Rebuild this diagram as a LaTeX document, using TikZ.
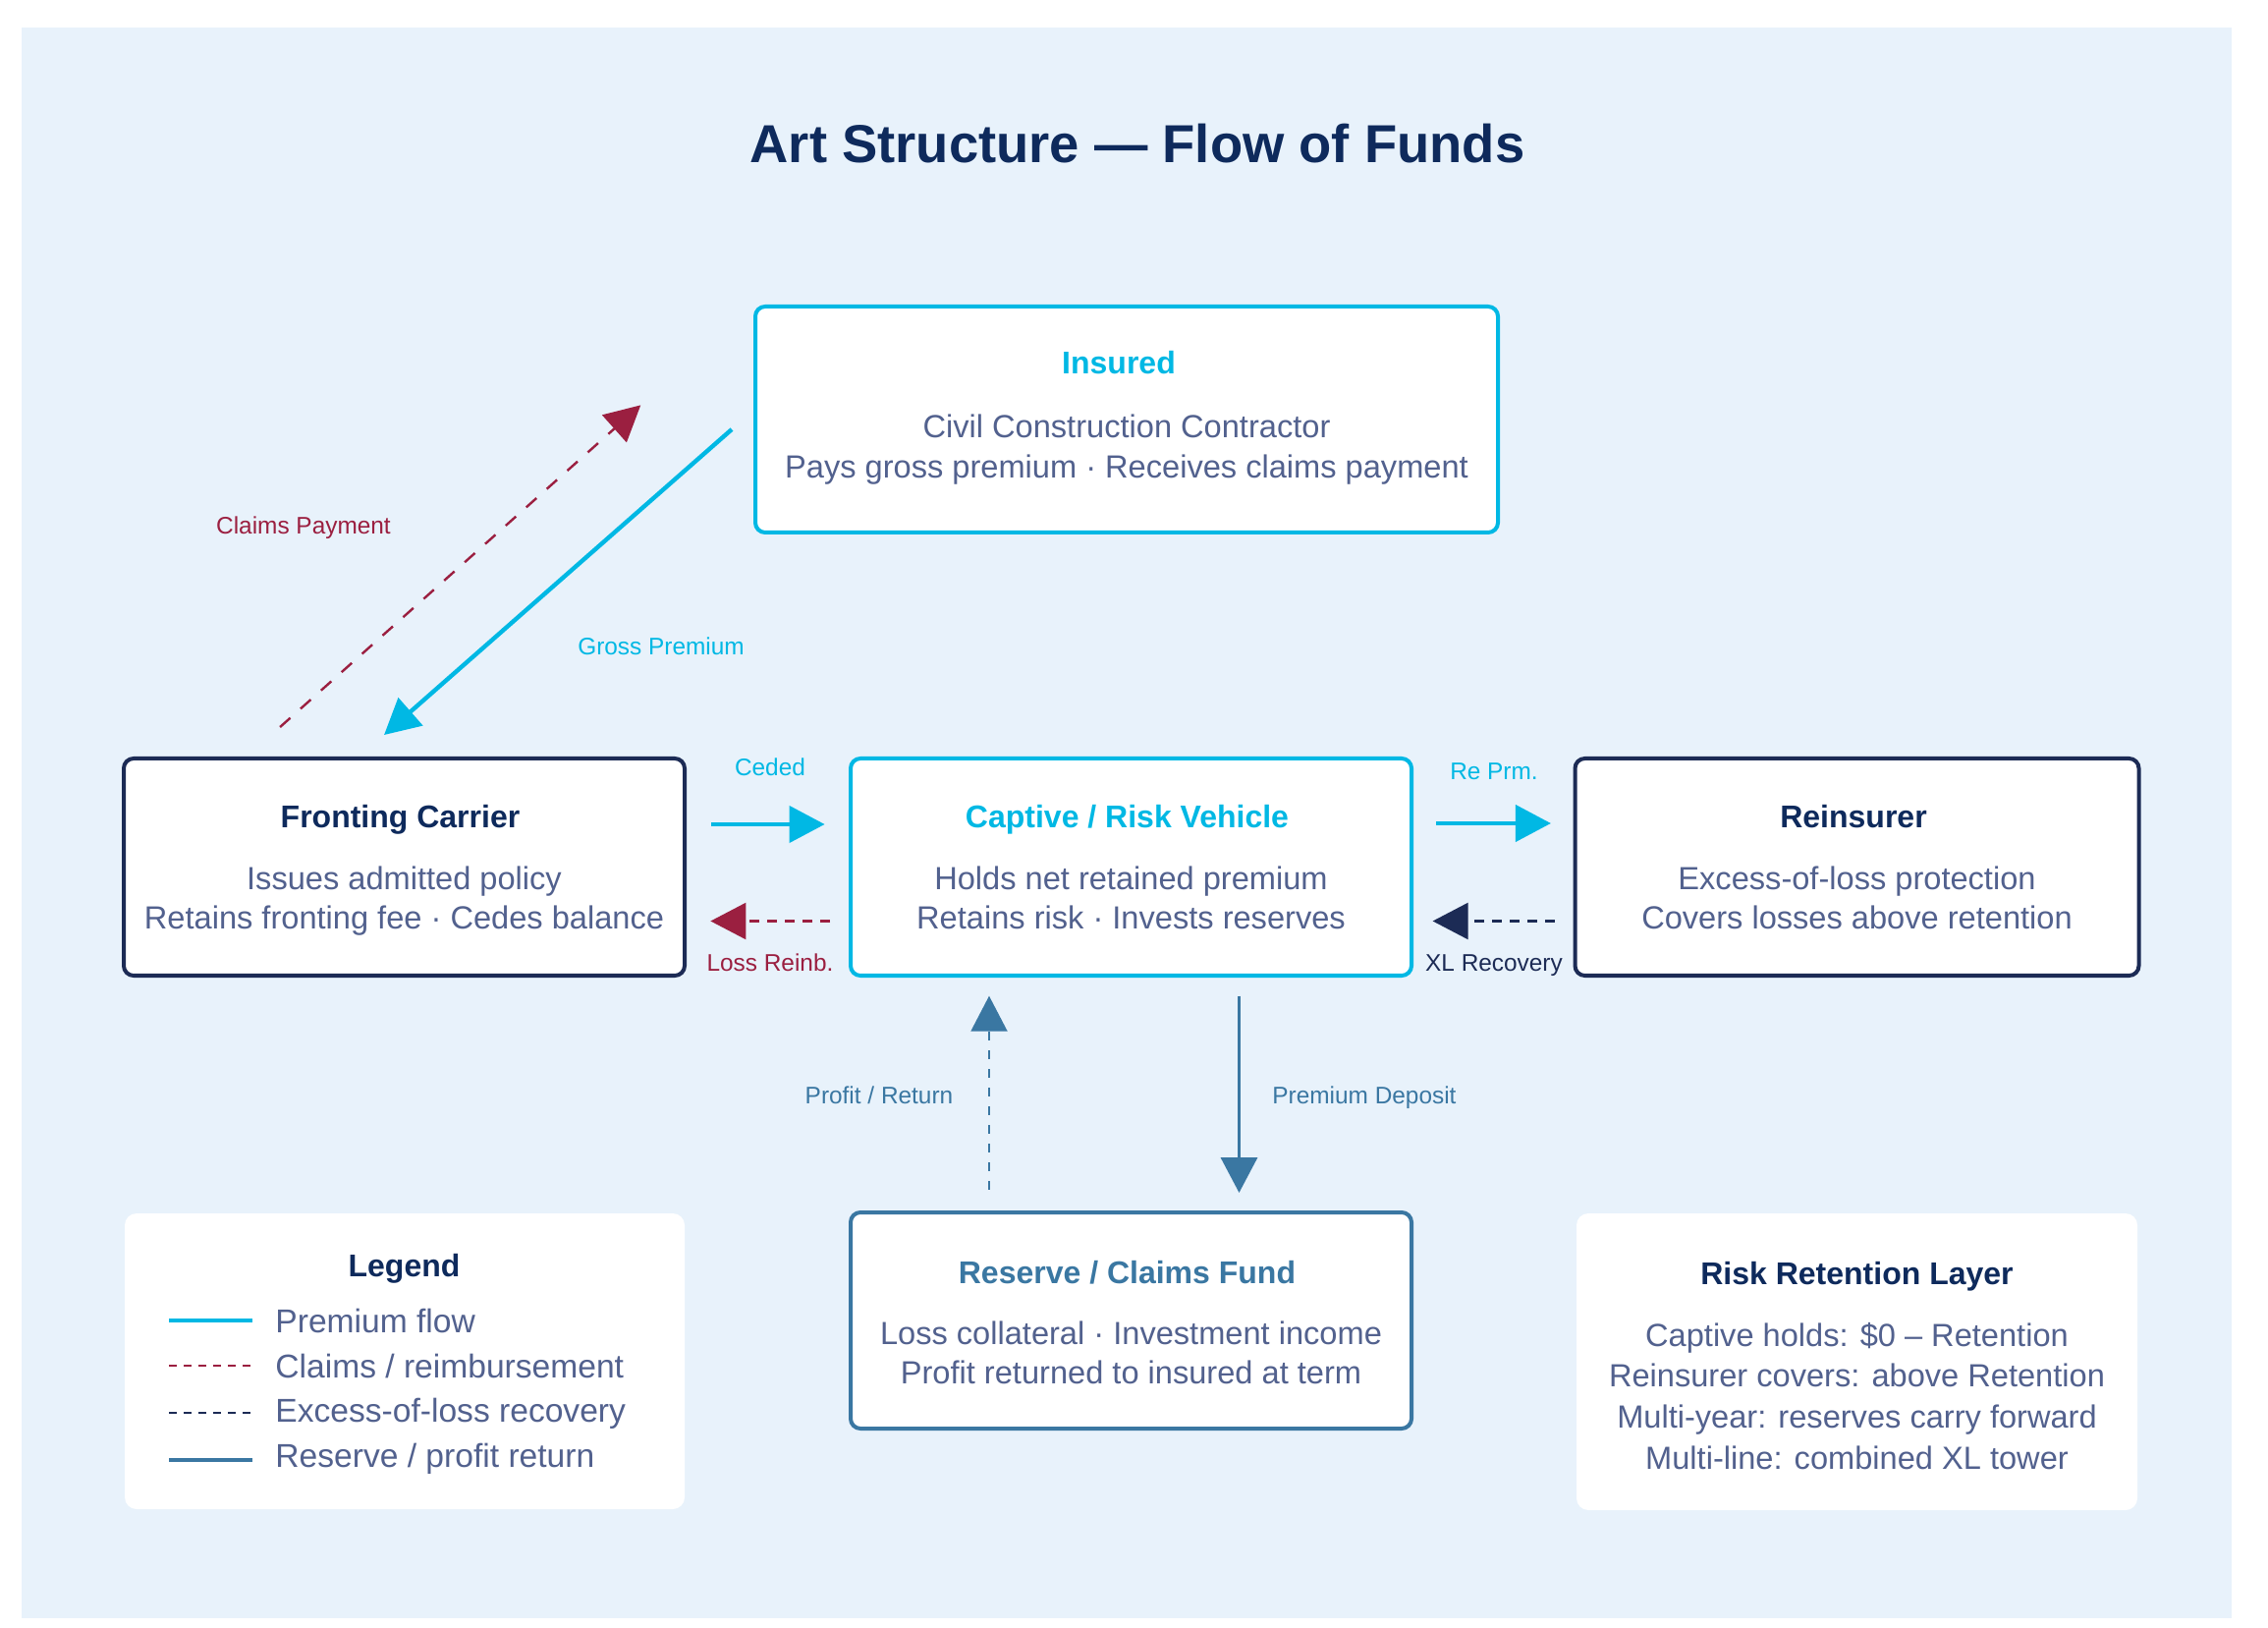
\documentclass[tikz,border=0pt]{standalone}
\usepackage{fontspec}
\setmainfont{Liberation Sans}
\usetikzlibrary{arrows.meta}
\definecolor{bgblue}{HTML}{E8F2FB}
\definecolor{cyanc}{HTML}{00B8E4}
\definecolor{navyc}{HTML}{1C2B55}
\definecolor{titlec}{HTML}{0E2A5C}
\definecolor{bodyc}{HTML}{52618E}
\definecolor{maroonc}{HTML}{9B1F40}
\definecolor{steelc}{HTML}{3A77A2}
\begin{document}
\begin{tikzpicture}[x=0.5pt,y=-0.5pt,
  box/.style={draw, line width=2pt, rounded corners=5pt, fill=white, inner sep=0pt},
  panel/.style={fill=white, rounded corners=6pt, inner sep=0pt},
  ttl/.style={font=\fontsize{16}{19}\selectfont\bfseries, anchor=base},
  body/.style={font=\fontsize{16.3}{19}\selectfont, text=bodyc, anchor=base},
  legtxt/.style={font=\fontsize{16.8}{19}\selectfont, text=bodyc, anchor=base west, inner sep=0pt},
  lbl/.style={font=\fontsize{12.2}{14}\selectfont, anchor=base},
  tipa/.style={-{Triangle[length=18pt,width=18.5pt]}},
  premium/.style={tipa, draw=cyanc, line width=2.2pt},
  claims/.style={tipa, draw=maroonc, line width=1.2pt, dash pattern=on 5pt off 4pt},
  xlrec/.style={tipa, draw=navyc, line width=1.2pt, dash pattern=on 5pt off 4pt},
  reserve/.style={tipa, draw=steelc, line width=1.8pt},
  profit/.style={tipa, draw=steelc, line width=1pt, dash pattern=on 4.5pt off 5pt}
]
\useasboundingbox (0,0) rectangle (2309,1657);
\fill[white] (0,0) rectangle (2309,1657);
\fill[bgblue] (22,28) rectangle (2272,1647);

% title
\node[font=\fontsize{27.2}{32}\selectfont\bfseries, text=titlec, anchor=base] (title) at (1158,165.7) {Art Structure — Flow of Funds};

% Insured
\node[box, draw=cyanc, minimum width=378pt, minimum height=115pt] (insured) at (1147,427) {};
\node[ttl, text=cyanc] (insuredT) at (1139,380.7) {Insured};
\node[body] (insuredA) at (1147,445.7) {Civil Construction Contractor};
\node[body] (insuredB) at (1147,486.7) {Pays gross premium · Receives claims payment};

% Fronting
\node[box, draw=navyc, minimum width=285.5pt, minimum height=110.5pt] (fronting) at (411.5,882.5) {};
\node[ttl, text=titlec] (frontingT) at (407.5,842.7) {Fronting Carrier};
\node[body] (frontingA) at (411.5,905.5) {Issues admitted policy};
\node[body] (frontingB) at (411.5,946) {Retains fronting fee · Cedes balance};

% Captive
\node[box, draw=cyanc, minimum width=285.5pt, minimum height=110.5pt] (captive) at (1151.5,882.5) {};
\node[ttl, text=cyanc] (captiveT) at (1147.5,842.7) {Captive / Risk Vehicle};
\node[body] (captiveA) at (1151.5,905.5) {Holds net retained premium};
\node[body] (captiveB) at (1151.5,946) {Retains risk · Invests reserves};

% Reinsurer
\node[box, draw=navyc, minimum width=287pt, minimum height=110.5pt] (reinsurer) at (1890.5,882.5) {};
\node[ttl, text=titlec] (reinsurerT) at (1887,842.7) {Reinsurer};
\node[body] (reinsurerA) at (1890.5,905.5) {Excess-of-loss protection};
\node[body] (reinsurerB) at (1890.5,946) {Covers losses above retention};

% Reserve
\node[box, draw=steelc, minimum width=285.5pt, minimum height=110pt] (reserve) at (1151.5,1344) {};
\node[ttl, text=steelc] (reserveT) at (1147.5,1306) {Reserve / Claims Fund};
\node[body] (reserveA) at (1151.5,1368.3) {Loss collateral · Investment income};
\node[body] (reserveB) at (1151.5,1408.5) {Profit returned to insured at term};

% Legend
\node[panel, minimum width=285pt, minimum height=150.5pt] (legend) at (412,1385.5) {};
\node[ttl, text=titlec] (legendT) at (411.5,1299.5) {Legend};
\draw[cyanc, line width=2pt] (172,1344) -- (257,1344);
\draw[maroonc, line width=1.1pt, dash pattern=on 4pt off 3.5pt] (172,1390) -- (257,1390);
\draw[navyc, line width=1.1pt, dash pattern=on 4pt off 3.5pt] (172,1438) -- (257,1438);
\draw[steelc, line width=2pt] (172,1486) -- (257,1486);
\node[legtxt] (legA) at (280,1356) {Premium flow};
\node[legtxt] (legB) at (280,1402.5) {Claims / reimbursement};
\node[legtxt] (legC) at (280,1447) {Excess-of-loss recovery};
\node[legtxt] (legD) at (280,1493) {Reserve / profit return};

% Risk retention
\node[panel, minimum width=285.5pt, minimum height=151pt] (risk) at (1890.5,1386) {};
\node[ttl, text=titlec] (riskT) at (1890.5,1307) {Risk Retention Layer};
\node[body] (riskA) at (1890.5,1370) {Captive holds: \$0 – Retention};
\node[body] (riskB) at (1890.5,1411.7) {Reinsurer covers: above Retention};
\node[body] (riskC) at (1890.5,1453.3) {Multi-year: reserves carry forward};
\node[body] (riskD) at (1890.5,1495) {Multi-line: combined XL tower};

% connectors
\draw[premium, shorten <=14.65pt, shorten >=16.65pt] ([yshift=4.65pt]insured.west) -- ([xshift=-22.75pt]fronting.north);
\draw[claims, dash pattern=on 7pt off 7pt, shorten <=22.5pt, shorten >=76.9pt] ([xshift=-80pt]fronting.north) -- (insured.north west);
\draw[premium, shorten <=12.5pt, shorten >=12.2pt] ([yshift=21.75pt]fronting.east) -- ([yshift=21.75pt]captive.west);
\draw[claims, shorten <=9.5pt, shorten >=12.2pt] ([yshift=-27.5pt]captive.west) -- ([yshift=-27.5pt]fronting.east);
\draw[premium, shorten <=11.5pt, shorten >=11.3pt] ([yshift=22.25pt]captive.east) -- ([yshift=22.25pt]reinsurer.west);
\draw[xlrec, shorten <=9.5pt, shorten >=9.8pt] ([yshift=-27.5pt]reinsurer.west) -- ([yshift=-27.5pt]captive.east);
\draw[reserve, shorten <=9.35pt, shorten >=9pt] ([xshift=55pt]captive.south) -- ([xshift=55pt]reserve.north);
\draw[profit, shorten <=10.65pt, shorten >=9.35pt] ([xshift=-72.25pt]reserve.north) -- ([xshift=-72.25pt]captive.south);

% labels
\node[lbl, text=cyanc] (lGross) at (673,666.7) {Gross Premium};
\node[lbl, text=maroonc] (lClaims) at (309,544) {Claims Payment};
\node[lbl, text=cyanc] (lCeded) at (784,789.3) {Ceded};
\node[lbl, text=maroonc] (lLoss) at (784,988.7) {Loss Reinb.};
\node[lbl, text=cyanc] (lRe) at (1521,793.3) {Re Prm.};
\node[lbl, text=navyc] (lXL) at (1521,988.3) {XL Recovery};
\node[lbl, text=steelc] (lProfit) at (895,1123.3) {Profit / Return};
\node[lbl, text=steelc] (lDeposit) at (1389,1123.3) {Premium Deposit};
\end{tikzpicture}
\end{document}
